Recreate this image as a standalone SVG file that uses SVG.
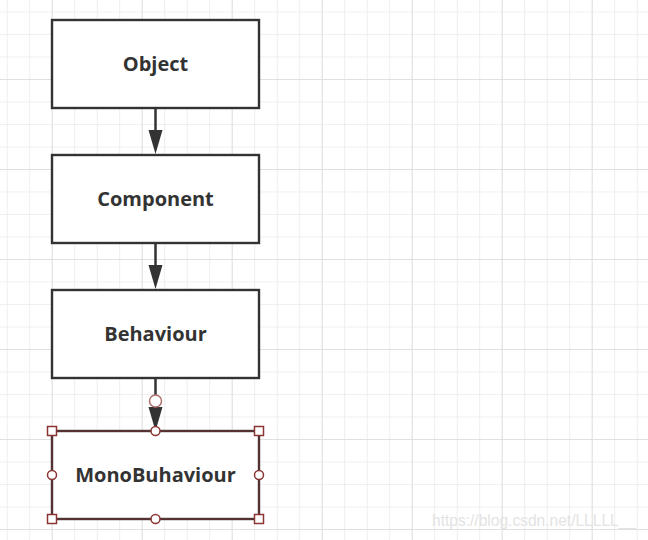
<svg xmlns="http://www.w3.org/2000/svg" width="648" height="540" viewBox="0 0 648 540">
<defs>
<pattern id="minor" x="6.7" y="11.5" width="22.5" height="22.5" patternUnits="userSpaceOnUse">
<path d="M0 0H22.5M0 0V22.5" fill="none" stroke="#ebebeb" stroke-width="1.6"/>
</pattern>
<pattern id="major" x="51.7" y="79" width="90" height="90" patternUnits="userSpaceOnUse">
<path d="M0 0H90M0 0V90" fill="none" stroke="#e0e0e0" stroke-width="1.8"/>
</pattern>
<style>
.box{fill:#fff;stroke:#333;stroke-width:2.4}
.lbl{font-family:"Open Sans","Liberation Sans",sans-serif;font-weight:bold;font-size:20px;fill:#333;text-anchor:middle}
.edge{stroke:#333;stroke-width:2.5;fill:none}
.sq{fill:#fff;stroke:#8a3434;stroke-width:1.5}
.hc{fill:#fff;stroke:#8a3434;stroke-width:1.5}
</style>
</defs>
<rect width="648" height="540" fill="#fff"/>
<rect width="648" height="540" fill="url(#minor)"/>
<rect width="648" height="540" fill="url(#major)"/>
<g id="connectors">
<path class="edge" d="M155.5 108V131"/><path d="M148.5 130L155.5 154L162.5 130Z" fill="#333"/>
<path class="edge" d="M155.5 243V266"/><path d="M148.5 265L155.5 289L162.5 265Z" fill="#333"/>
<path class="edge" d="M155.5 378V408"/><path d="M148.5 407L155.5 431L162.5 407Z" fill="#333"/>
</g>
<g id="object">
<rect class="box" x="52" y="20" width="207" height="88"/>
<text class="lbl" x="155.5" y="71">Object</text>
</g>
<g id="component">
<rect class="box" x="52" y="155" width="207" height="88"/>
<text class="lbl" x="155.5" y="206">Component</text>
</g>
<g id="behaviour">
<rect class="box" x="52" y="290" width="207" height="88"/>
<text class="lbl" x="155.5" y="341">Behaviour</text>
</g>
<g id="monobuhaviour">
<rect class="box" x="52" y="431" width="207" height="88"/>
<rect x="52" y="431" width="207" height="88" fill="none" stroke="#8a3434" stroke-width="0.8"/>
<text class="lbl" x="155.5" y="482">MonoBuhaviour</text>
<g id="handles">
<rect class="sq" x="47.5" y="426.5" width="9" height="9"/>
<rect class="sq" x="254.5" y="426.5" width="9" height="9"/>
<rect class="sq" x="47.5" y="514.5" width="9" height="9"/>
<rect class="sq" x="254.5" y="514.5" width="9" height="9"/>
<circle class="hc" cx="155.5" cy="431" r="4.5"/>
<circle class="hc" cx="155.5" cy="519" r="4.5"/>
<circle class="hc" cx="52" cy="475" r="4.5"/>
<circle class="hc" cx="259" cy="475" r="4.5"/>
<circle cx="155.5" cy="401" r="6" fill="#fff" stroke="#b07070" stroke-width="1.5"/>
</g>
</g>
<text x="432" y="526" font-family="'Liberation Sans',Arial,sans-serif" font-size="16" fill="#e3e3e3" textLength="204" lengthAdjust="spacingAndGlyphs">https://blog.csdn.net/LLLLL__</text>
</svg>
